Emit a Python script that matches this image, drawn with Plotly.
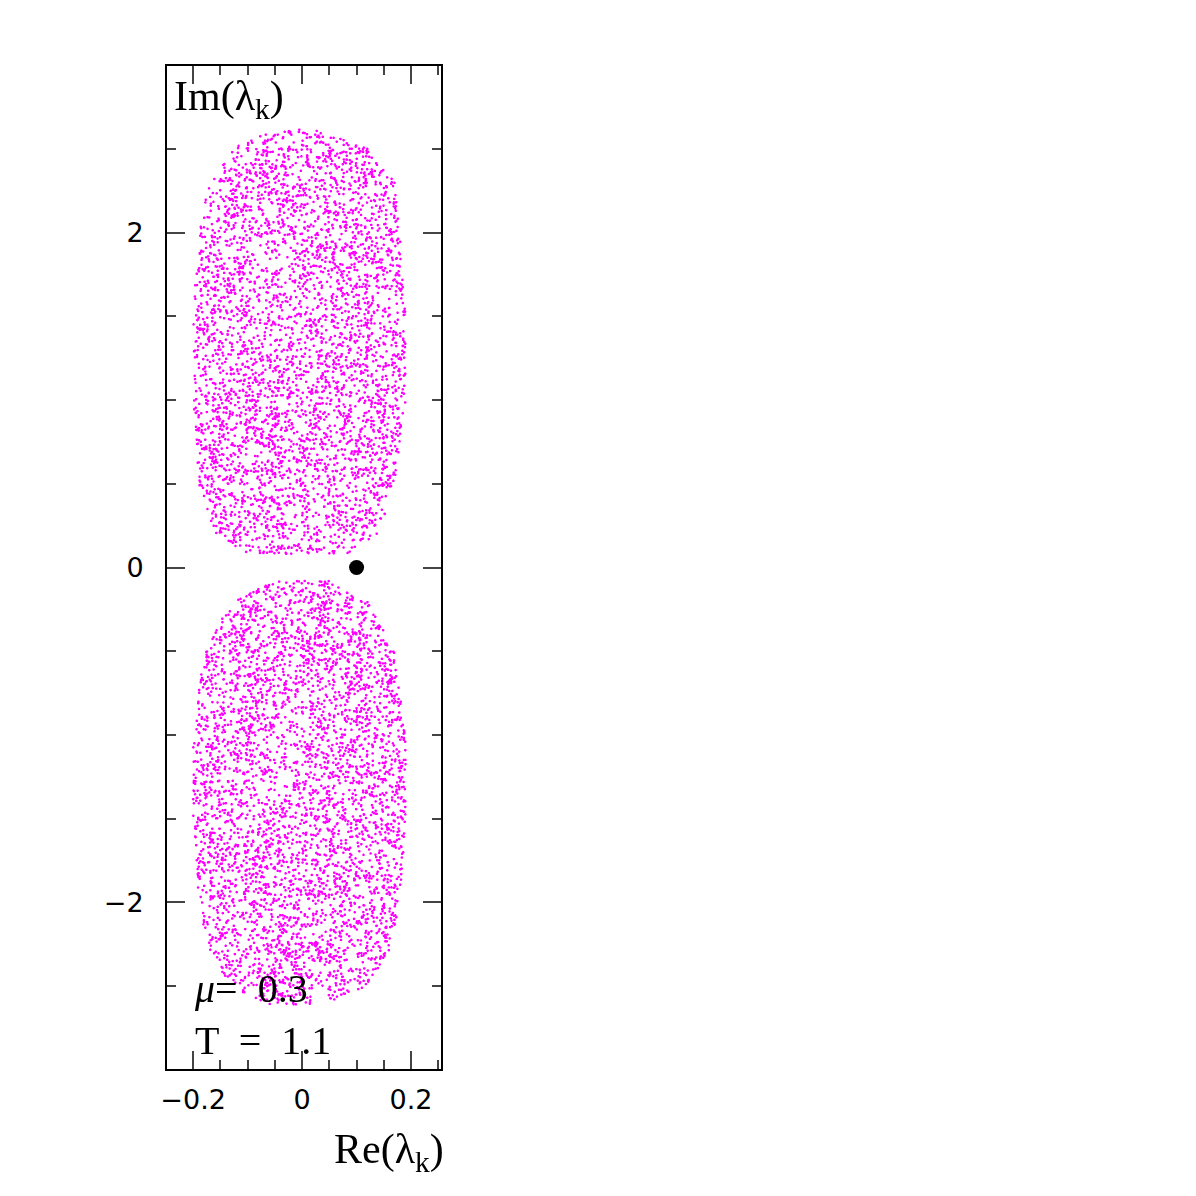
import numpy as np
import plotly.graph_objects as go

# Outline of each eigenvalue cloud: Im level -> Re left / right edge
upper_im = [0.08, 0.2, 0.5, 1.0, 1.5, 2.0, 2.3, 2.5, 2.62]
upper_left = [-0.10, -0.16, -0.19, -0.20, -0.20, -0.19, -0.17, -0.13, -0.05]
upper_right = [0.08, 0.14, 0.17, 0.19, 0.19, 0.18, 0.17, 0.12, 0.02]

lower_im = [-0.08, -0.2, -0.5, -1.0, -1.5, -2.0, -2.3, -2.5, -2.62]
lower_left = [-0.05, -0.13, -0.18, -0.20, -0.20, -0.19, -0.17, -0.13, -0.06]
lower_right = [0.05, 0.12, 0.17, 0.19, 0.19, 0.18, 0.16, 0.12, 0.04]

point_re = [0.1]
point_im = [0.0]

# The individual dots can't be read one by one, so the clouds are filled inside the outlines
rng = np.random.default_rng(7)


def fill(im, left, right, n):
    lo, hi = min(im), max(im)
    ys = rng.uniform(lo, hi, n * 2)
    order = np.argsort(im)
    yi = np.array(im)[order]
    l = np.interp(ys, yi, np.array(left)[order])
    r = np.interp(ys, yi, np.array(right)[order])
    xs = rng.uniform(-0.21, 0.21, n * 2)
    keep = (xs >= l) & (xs <= r)
    return xs[keep][:n], ys[keep][:n]


ux, uy = fill(upper_im, upper_left, upper_right, 4200)
lx, ly = fill(lower_im, lower_left, lower_right, 4200)

fig = go.Figure()
fig.add_trace(go.Scattergl(x=np.concatenate([ux, lx]), y=np.concatenate([uy, ly]), mode='markers',
                           marker=dict(color='#ff00ff', size=2.6), showlegend=False))
fig.add_trace(go.Scatter(x=point_re, y=point_im, mode='markers',
                         marker=dict(color='black', size=15), showlegend=False))

axis_font = dict(family='DejaVu Sans', size=27, color='black')
fig.update_xaxes(range=[-0.248, 0.255], tickvals=[-0.2, 0, 0.2], ticktext=['\u22120.2', '0', '0.2'],
                 ticks='inside', ticklen=18, tickwidth=1.5, mirror='ticks', showline=True,
                 linecolor='black', linewidth=2, showgrid=False, zeroline=False, tickfont=axis_font,
                 ticklabelstandoff=6,
                 minor=dict(dtick=0.05, tick0=0, ticks='inside', ticklen=9, tickwidth=1.5))
fig.update_yaxes(range=[-2.995, 2.995], tickvals=[-2, 0, 2], ticktext=['\u22122', '0', '2'],
                 ticks='inside', ticklen=18, tickwidth=1.5, mirror='ticks', showline=True,
                 linecolor='black', linewidth=2, showgrid=False, zeroline=False, tickfont=axis_font,
                 ticklabelstandoff=16,
                 minor=dict(dtick=0.5, tick0=0, ticks='inside', ticklen=9, tickwidth=1.5))

serif = dict(family='Liberation Serif', size=42, color='black')
fig.add_annotation(x=0.02, y=0.995, xref='paper', yref='paper', xanchor='left', yanchor='top',
                   text='Im(\u03bb<sub>k</sub>)', showarrow=False, font=serif)
fig.add_annotation(x=1.02, y=-0.055, xref='paper', yref='paper', xanchor='right', yanchor='top',
                   text='Re(\u03bb<sub>k</sub>)', showarrow=False, font=serif)
fig.add_annotation(x=0.09, y=0.105, xref='paper', yref='paper', xanchor='left', yanchor='top',
                   text='<i>\u03bc</i>=  0.3<br>T  =  1.1', showarrow=False, align='left',
                   font=dict(family='Liberation Serif', size=40, color='black'))

fig.update_layout(width=1196, height=1196, plot_bgcolor='white', paper_bgcolor='white',
                  margin=dict(l=159, r=763, t=58, b=135))
fig.write_html('out.html')
